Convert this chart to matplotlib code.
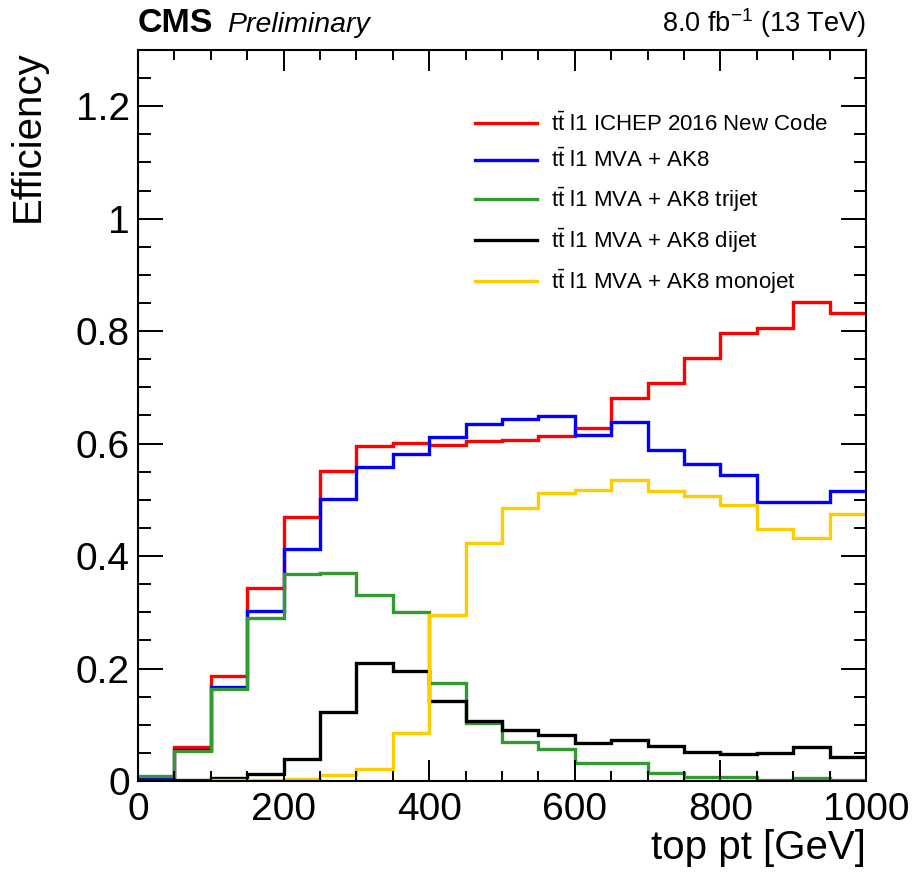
import matplotlib
matplotlib.use('Agg')
import matplotlib.pyplot as plt
from matplotlib.ticker import MultipleLocator

plt.rcParams['font.family'] = 'Liberation Sans'
plt.rcParams['mathtext.fontset'] = 'custom'
plt.rcParams['mathtext.rm'] = 'Liberation Sans'
plt.rcParams['mathtext.it'] = 'Liberation Sans:italic'
plt.rcParams['mathtext.bf'] = 'Liberation Sans:bold'

# top pt bins, 50 GeV wide
edges = [0, 50, 100, 150, 200, 250, 300, 350, 400, 450, 500,
         550, 600, 650, 700, 750, 800, 850, 900, 950, 1000]

# efficiency per bin
ichep = [0.007, 0.060, 0.187, 0.343, 0.469, 0.552, 0.595, 0.601, 0.598, 0.604,
         0.606, 0.614, 0.628, 0.681, 0.707, 0.753, 0.797, 0.806, 0.852, 0.833]
mva_ak8 = [0.007, 0.055, 0.168, 0.303, 0.412, 0.501, 0.558, 0.581, 0.612, 0.634,
           0.644, 0.649, 0.615, 0.639, 0.589, 0.564, 0.544, 0.497, 0.496, 0.516]
trijet = [0.009, 0.053, 0.163, 0.290, 0.369, 0.370, 0.331, 0.301, 0.175, 0.103,
          0.069, 0.057, 0.032, 0.032, 0.014, 0.008, 0.007, 0.001, 0.006, 0.001]
dijet = [0.001, 0.001, 0.006, 0.012, 0.039, 0.123, 0.209, 0.195, 0.142, 0.107,
         0.091, 0.081, 0.067, 0.073, 0.063, 0.051, 0.048, 0.049, 0.060, 0.043]
monojet = [0.000, 0.000, 0.001, 0.002, 0.004, 0.010, 0.021, 0.086, 0.295, 0.423,
           0.485, 0.512, 0.517, 0.536, 0.515, 0.506, 0.490, 0.449, 0.432, 0.474]

tt = r'$\mathrm{t\bar{t}}$ l1 '
labels = [tt + 'ICHEP 2016 New Code', tt + 'MVA + AK8', tt + 'MVA + AK8 trijet',
          tt + 'MVA + AK8 dijet', tt + 'MVA + AK8 monojet']
colors = ['#ff0000', '#0000ff', '#339933', '#000000', '#ffcc00']
series = [ichep, mva_ak8, trijet, dijet, monojet]

fig = plt.figure(figsize=(9.17, 8.8), dpi=100)
ax = fig.add_axes([138/917, 99/880, 728/917, 731/880])

for vals, col, lab in zip(series, colors, labels):
    ax.stairs(vals, edges, baseline=None, color=col, linewidth=2.4, label=lab)

ax.set_xlim(0, 1000)
ax.set_ylim(0, 1.3)
ax.xaxis.set_major_locator(MultipleLocator(200))
ax.xaxis.set_minor_locator(MultipleLocator(50))
ax.yaxis.set_major_locator(MultipleLocator(0.2))
ax.yaxis.set_minor_locator(MultipleLocator(0.05))
ax.yaxis.set_major_formatter(plt.FuncFormatter(lambda v, p: ('%g' % round(v, 2))))

ax.tick_params(which='both', direction='in', top=True, right=True, width=1.4)
ax.tick_params(axis='x', which='major', length=15, labelsize=28, pad=8)
ax.tick_params(axis='x', which='minor', length=7.5)
ax.tick_params(axis='y', which='major', length=18, labelsize=28, pad=6)
ax.tick_params(axis='y', which='minor', length=9)
for s in ax.spines.values():
    s.set_linewidth(1.5)

ax.set_xlabel('top pt [GeV]', fontsize=29, loc='right')
ax.xaxis.set_label_coords(1.0, -0.066)
ax.xaxis.label.set_va('top')
ax.set_ylabel('Efficiency', fontsize=29, loc='top')
ax.yaxis.set_label_coords(-0.125, 1.0)

ax.text(0.0, 1.0246, 'CMS', transform=ax.transAxes, fontsize=24.5,
        fontweight='bold', va='baseline', ha='left')
ax.text(0.122, 1.0246, 'Preliminary', transform=ax.transAxes, fontsize=20.5,
        style='italic', va='baseline', ha='left')
ax.text(1.0, 1.0246, r'8.0 fb$^{-1}$ (13 TeV)', transform=ax.transAxes,
        fontsize=19.5, va='baseline', ha='right')

ax.legend(loc='upper left', bbox_to_anchor=(0.463, 0.914), frameon=False,
          fontsize=16, handlelength=2.8, handletextpad=0.6,
          labelspacing=0.585, borderpad=0, borderaxespad=0)

fig.savefig('out.png', dpi=100)
